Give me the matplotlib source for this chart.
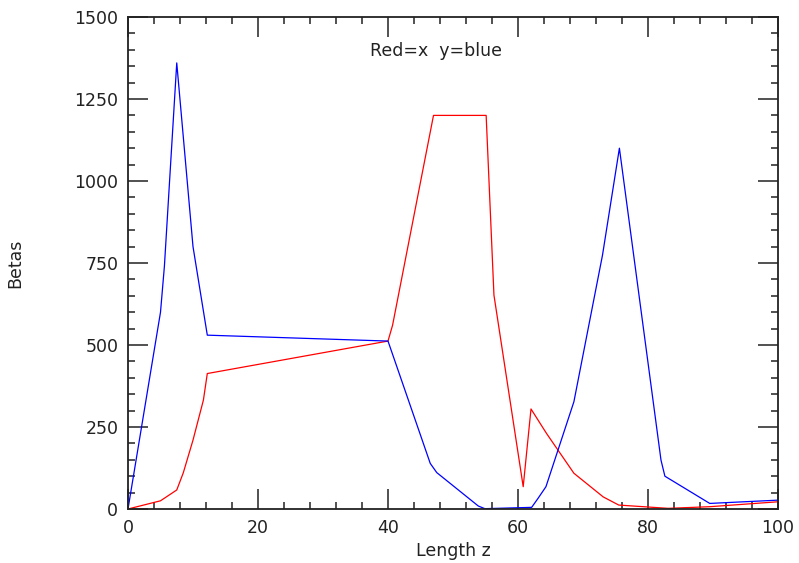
import matplotlib
matplotlib.use("Agg")
import matplotlib.pyplot as plt
from matplotlib.ticker import MultipleLocator

# Beta functions along the beam line
z_x = [0, 5, 7.5, 8.5, 10.0, 11.6, 12.2, 40.0, 40.7, 47.0, 55.1, 56.3, 60.8,
       62.0, 64.4, 68.6, 73.1, 75.5, 83.1, 89.5, 100]
beta_x = [0, 25, 58, 110, 210, 332, 413, 512, 560, 1200, 1200, 652, 68,
          305, 230, 109, 37, 12, 2, 7, 22]

z_y = [0, 5.0, 5.6, 7.5, 10.0, 12.2, 40.0, 46.5, 47.5, 53.9, 54.9, 62.1, 63.1,
       64.3, 68.6, 73.0, 75.6, 82.0, 82.6, 89.5, 100]
beta_y = [0, 600, 740, 1360, 800, 530, 512, 139, 111, 9, 1, 5, 33,
          68, 327, 774, 1100, 149, 100, 17, 27]

text_color = "#222222"
plt.rcParams["font.family"] = ["DejaVu Sans"]

fig = plt.figure(figsize=(7.99, 5.63), dpi=100)
ax = fig.add_axes([128 / 799, 1 - 509 / 563, 650 / 799, 492 / 563])

ax.plot(z_x, beta_x, color="red", lw=0.9)
ax.plot(z_y, beta_y, color="blue", lw=0.9)

ax.set_xlim(0, 100)
ax.set_ylim(0, 1500)
ax.xaxis.set_major_locator(MultipleLocator(20))
ax.xaxis.set_minor_locator(MultipleLocator(4))
ax.yaxis.set_major_locator(MultipleLocator(250))
ax.yaxis.set_minor_locator(MultipleLocator(50))

ax.tick_params(which="both", direction="in", top=True, right=True,
               colors=text_color, labelsize=12.5, width=1.1)
ax.tick_params(which="major", length=14.5, pad=7)
ax.tick_params(which="minor", length=5)
for sp in ax.spines.values():
    sp.set_color(text_color)
    sp.set_linewidth(1.3)

ax.set_xlabel("Length z", fontsize=12.5, color=text_color, labelpad=4)
ax.set_ylabel("Betas", fontsize=12.5, color=text_color, labelpad=36)
ax.text(0.372, 0.931, "Red=x  y=blue", transform=ax.transAxes,
        fontsize=12.5, color=text_color, ha="left", va="center")

fig.savefig("out.png", dpi=100)
